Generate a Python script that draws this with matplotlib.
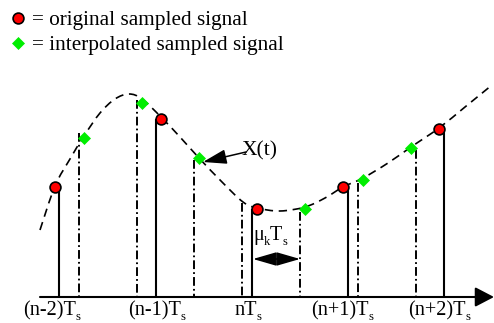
import numpy as np
import matplotlib
matplotlib.use("Agg")
import matplotlib.pyplot as plt
from matplotlib.path import Path
from matplotlib.patches import PathPatch
from matplotlib.transforms import IdentityTransform

plt.rcParams['font.family'] = ['Liberation Serif', 'DejaVu Serif']

# ---- data (in picture units: x right, y down) ----
curve_x = [40, 55, 70, 84, 100, 115, 129, 142, 161, 180, 199, 222, 243, 257,
           280, 305, 325, 343, 363, 388, 411, 439, 465, 492]
curve_y = [230, 186, 159, 136, 113, 99, 94, 99, 117, 137, 158, 182, 202, 208,
           211, 207, 198, 187, 178, 163, 147, 128, 107, 85]

orig_line_x = [59, 156, 252, 348, 444]
orig_x = [55, 161, 257, 343, 439]
orig_y = [187, 119, 209, 187, 129]

interp_line_x = [79, 137, 194, 242, 300, 358, 416]
interp_line_top = [133, 100, 160, 203, 212, 183, 150]
interp_x = [84, 142, 199, 305, 363, 411]
interp_y = [138, 103, 158, 209, 180, 148]

tick_main = ['(n-2)T', '(n-1)T', 'nT', '(n+1)T', '(n+2)T']
tick_sub = ['s', 's', 's', 's', 's']
tick_label_x = [52, 157, 248, 342, 439]

legend_labels = ['= original sampled signal', '= interpolated sampled signal']

axis_y = 297
red = '#ff0000'
green = '#00ee00'

fig = plt.figure(figsize=(4.94, 3.23), dpi=100)
ax = fig.add_axes([0, 0, 1, 1])
ax.set_xlim(0, 494)
ax.set_ylim(323, 0)
ax.axis('off')
renderer = fig.canvas.get_renderer()


def rich(x, y, pieces, size, ha='center'):
    """pieces: list of (text, is_subscript); y is the baseline (data units)."""
    px, py = ax.transData.transform((x, y))
    arts = []
    cur = 0.0
    for s, is_sub in pieces:
        fs = size * 0.62 if is_sub else size
        dy = -size * 0.24 * 100 / 72 if is_sub else 0.0
        t = ax.text(px + cur, py + dy, s, fontsize=fs, ha='left', va='baseline',
                    transform=IdentityTransform())
        w = t.get_window_extent(renderer).width
        arts.append((t, cur, dy))
        cur += w
    shift = -cur / 2 if ha == 'center' else 0.0
    for t, c, dy in arts:
        t.set_position((px + c + shift, py + dy))


# smooth curve through points (Catmull-Rom -> cubic Bezier)
pts = np.column_stack([curve_x, curve_y]).astype(float)
verts = [pts[0]]
codes = [Path.MOVETO]
for i in range(len(pts) - 1):
    p0 = pts[i - 1] if i > 0 else pts[i]
    p1 = pts[i]
    p2 = pts[i + 1]
    p3 = pts[i + 2] if i + 2 < len(pts) else pts[i + 1]
    c1 = p1 + (p2 - p0) / 6.0
    c2 = p2 - (p3 - p1) / 6.0
    verts += [c1, c2, p2]
    codes += [Path.CURVE4] * 3
patch = PathPatch(Path(verts, codes), fill=False, lw=1.2, ls=(0, (5.0, 3.4)),
                  color='black', zorder=2)
ax.add_patch(patch)

# sample lines
ax.vlines(orig_line_x, orig_y, axis_y, colors='black', lw=1.5, zorder=3)
ax.vlines(interp_line_x, interp_line_top, axis_y, colors='black', lw=1.4,
          linestyles=[(0, (4.5, 1.6, 0.9, 1.6))], zorder=3)

# axis with arrow
ax.annotate('', xy=(494, axis_y), xytext=(40, axis_y),
            arrowprops=dict(arrowstyle='-|>,head_length=1.15,head_width=0.6',
                            lw=1.5, color='black', shrinkA=0, shrinkB=0,
                            mutation_scale=10), zorder=4)

# markers
ax.plot(orig_x, orig_y, 'o', ms=7.8, mfc=red, mec='black', mew=1.2, zorder=5, ls='none')
ax.plot(interp_x, interp_y, 'D', ms=6.0, mfc=green, mec=green, mew=0.5, zorder=5, ls='none')

# legend
ax.plot([18], [18], 'o', ms=7.8, mfc=red, mec='black', mew=1.2)
ax.plot([18], [43], 'D', ms=6.0, mfc=green, mec=green, mew=0.5)
ax.text(32, 25, legend_labels[0], fontsize=15.3, va='baseline', ha='left')
ax.text(32, 50, legend_labels[1], fontsize=15.3, va='baseline', ha='left')

# tick labels
for lx, m, s in zip(tick_label_x, tick_main, tick_sub):
    rich(lx, 315, [(m, False), (s, True)], 14.6, ha='center')

# X(t) annotation
ax.annotate('', xy=(203, 162), xytext=(246, 152),
            arrowprops=dict(arrowstyle='-|>,head_length=1.45,head_width=0.45',
                            lw=1.1, color='black', shrinkA=0, shrinkB=0,
                            mutation_scale=10), zorder=6)
ax.text(242, 155, 'X(t)', fontsize=15.5, ha='left', va='baseline')

# mu_k T_s double arrow
ax.annotate('', xy=(300, 259), xytext=(253, 259),
            arrowprops=dict(arrowstyle='<|-|>,head_length=1.45,head_width=0.42',
                            lw=1.1, color='black', shrinkA=0, shrinkB=0,
                            mutation_scale=10), zorder=6)
rich(253, 240, [('μ', False), ('k', True), ('T', False), ('s', True)], 14.5, ha='left')

fig.savefig('out.png', dpi=100)
